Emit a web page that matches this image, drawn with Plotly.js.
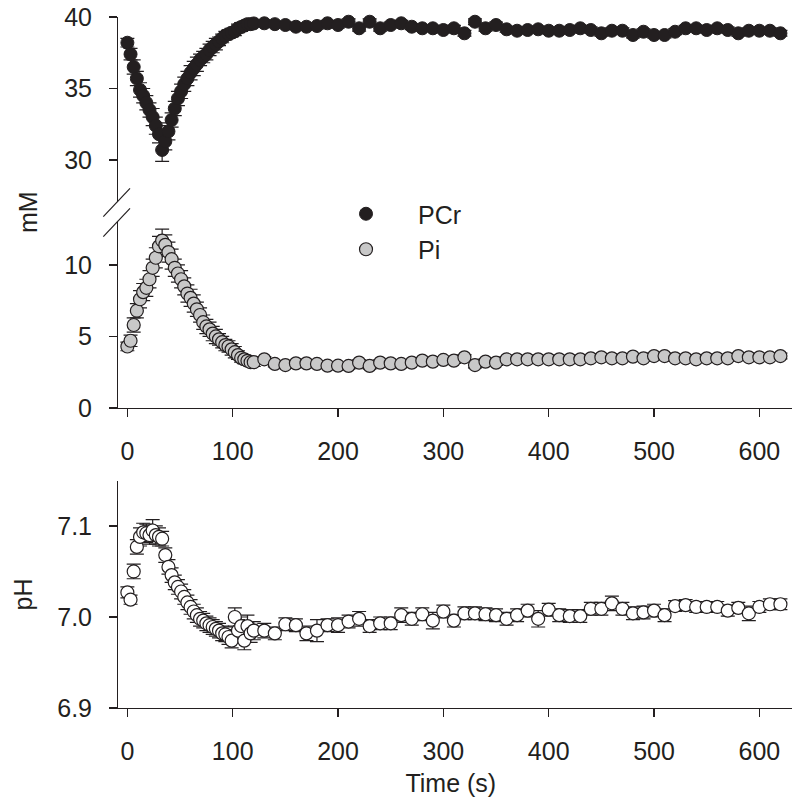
<!DOCTYPE html>
<html>
<head>
<meta charset="utf-8">
<script src="https://cdn.plot.ly/plotly-3.0.1.min.js"></script>
<style>
  html, body { margin: 0; padding: 0; background: #ffffff; }
  #chart { width: 800px; height: 808px; }
</style>
</head>
<body>
<div id="chart"></div>
<script>
// ---- time points (s) ----
var timeDense = [0,3,6,9,12,15,18,21,24,27,30,33,36,39,42,45,48,51,54,57,60,63,66,69,72,75,78,81,84,87,90,93,96,99,102,105,108,111,114,117,120];
var timeLate = [130,140,150,160,170,180,190,200,210,220,230,240,250,260,270,280,290,300,310,320,330,340,350,360,370,380,390,400,410,420,430,440,450,460,470,480,490,500,510,520,530,540,550,560,570,580,590,600,610,620];

// ---- PCr (mM) ----
var pcrDense = [38.2,37.4,36.5,35.7,34.9,34.5,34.0,33.5,33.0,32.4,31.8,30.7,31.3,32.0,32.8,33.6,34.3,34.8,35.3,35.7,36.1,36.4,36.7,37.0,37.2,37.4,37.7,37.9,38.1,38.3,38.5,38.7,38.8,38.9,39.0,39.2,39.3,39.4,39.5,39.5,39.55];
var pcrLate = [39.56,39.5,39.44,39.32,39.32,39.37,39.56,39.44,39.67,39.21,39.67,39.21,39.44,39.56,39.32,39.21,39.21,39.09,39.21,38.86,39.67,39.21,39.44,39.14,39.04,39.09,39.14,39.04,39.04,39.09,39.21,39.09,38.86,39.04,39.04,38.74,38.97,38.74,38.74,38.97,39.21,39.21,39.09,39.21,39.09,38.86,39.04,39.04,39.04,38.86];
var pcrErrDense = [0.3,0.4,0.5,0.5,0.5,0.5,0.5,0.5,0.6,0.6,0.6,0.8,0.6,0.6,0.5,0.5,0.5,0.5,0.5,0.5,0.5,0.5,0.5,0.4,0.4,0.4,0.4,0.4,0.4,0.3,0.3,0.3,0.3,0.3,0.3,0.3,0.3,0.2,0.2,0.2,0.2];
var pcrErrLate = [0.2,0.2,0.2,0.2,0.2,0.2,0.2,0.2,0.2,0.2,0.2,0.2,0.2,0.2,0.2,0.2,0.2,0.2,0.2,0.2,0.2,0.2,0.2,0.2,0.2,0.2,0.2,0.2,0.2,0.2,0.2,0.2,0.2,0.2,0.2,0.2,0.2,0.2,0.2,0.2,0.2,0.2,0.2,0.2,0.2,0.2,0.2,0.2,0.2,0.2];

// ---- Pi (mM) ----
var piDense = [4.3,4.7,5.8,6.8,7.6,8.1,8.4,9.0,9.8,10.5,11.3,11.7,11.4,10.9,10.4,9.8,9.4,9.0,8.5,8.0,7.7,7.3,6.9,6.5,6.0,5.7,5.5,5.2,5.0,4.8,4.6,4.4,4.3,4.1,3.9,3.7,3.5,3.4,3.3,3.2,3.2];
var piLate = [3.4,3.08,3.0,3.12,3.12,3.08,2.96,2.96,2.94,3.17,2.94,3.17,3.12,3.08,3.17,3.31,3.24,3.36,3.31,3.54,3.0,3.24,3.17,3.4,3.4,3.4,3.4,3.4,3.4,3.4,3.4,3.47,3.54,3.47,3.47,3.59,3.47,3.63,3.63,3.47,3.47,3.4,3.47,3.47,3.47,3.63,3.54,3.54,3.54,3.63];
var piErrDense = [0.3,0.4,0.5,0.5,0.6,0.6,0.6,0.6,0.6,0.7,0.7,0.8,0.7,0.7,0.7,0.6,0.6,0.6,0.6,0.6,0.6,0.6,0.5,0.5,0.5,0.5,0.5,0.5,0.5,0.4,0.4,0.4,0.4,0.4,0.4,0.3,0.3,0.3,0.3,0.3,0.3];
var piErrLate = [0.2,0.2,0.2,0.2,0.2,0.2,0.2,0.2,0.2,0.2,0.2,0.2,0.2,0.2,0.2,0.2,0.2,0.2,0.2,0.2,0.2,0.2,0.2,0.2,0.2,0.2,0.2,0.2,0.2,0.2,0.2,0.2,0.2,0.2,0.2,0.2,0.2,0.2,0.2,0.2,0.2,0.2,0.2,0.2,0.2,0.2,0.2,0.2,0.2,0.2];

// ---- pH ----
var phDense = [7.027,7.019,7.050,7.077,7.088,7.093,7.092,7.090,7.095,7.090,7.088,7.086,7.068,7.055,7.046,7.038,7.033,7.028,7.022,7.016,7.011,7.006,7.002,6.998,6.996,6.993,6.991,6.989,6.987,6.985,6.982,6.981,6.978,6.974,7.000,6.985,6.990,6.974,6.990,6.982,6.985];
var phLate = [6.985,6.982,6.992,6.991,6.982,6.985,6.991,6.991,6.995,6.998,6.990,6.993,6.993,7.002,6.998,7.003,6.996,7.006,6.996,7.004,7.004,7.003,7.002,6.998,7.002,7.007,6.998,7.008,7.002,7.001,7.001,7.009,7.009,7.015,7.009,7.004,7.005,7.007,7.002,7.012,7.013,7.011,7.011,7.011,7.007,7.010,7.004,7.011,7.014,7.014];
var phErrDense = [0.006,0.005,0.008,0.008,0.010,0.010,0.010,0.010,0.012,0.010,0.010,0.008,0.008,0.008,0.008,0.008,0.008,0.008,0.008,0.008,0.008,0.008,0.008,0.008,0.008,0.008,0.008,0.008,0.008,0.008,0.008,0.008,0.008,0.008,0.010,0.012,0.010,0.010,0.012,0.010,0.010];
var phErrLate = [0.008,0.007,0.007,0.007,0.008,0.012,0.007,0.008,0.007,0.008,0.007,0.007,0.007,0.008,0.007,0.007,0.009,0.007,0.007,0.007,0.007,0.007,0.007,0.007,0.007,0.007,0.009,0.007,0.007,0.007,0.007,0.007,0.007,0.008,0.007,0.007,0.007,0.007,0.007,0.006,0.006,0.006,0.006,0.006,0.006,0.006,0.008,0.006,0.006,0.006];

// ---- tick labels ----
var xTicks = [0,100,200,300,400,500,600];
var pcrTicks = [30,35,40];
var piTicks = [0,5,10];
var phTicks = [6.9,7.0,7.1];
var phTickText = ['6.9','7.0','7.1'];

var seriesNames = ['PCr','Pi','pH'];

var time = timeDense.concat(timeLate);
var pcr = pcrDense.concat(pcrLate), pcrErr = pcrErrDense.concat(pcrErrLate);
var pi = piDense.concat(piLate), piErr = piErrDense.concat(piErrLate);
var ph = phDense.concat(phLate), phErr = phErrDense.concat(phErrLate);

var INK = '#231f20';
var FONT = 'Liberation Sans, Arial, sans-serif';
var W = 800, H = 808;
function px(x) { return x / W; }
function py(y) { return 1 - y / H; }

function errStyle(arr) {
  return {type: 'data', array: arr, visible: true, color: INK, thickness: 1.2, width: 7};
}

var traces = [
  {x: time, y: pcr, xaxis: 'x', yaxis: 'y', type: 'scatter', mode: 'markers', name: seriesNames[0],
   legendgroup: 'm', cliponaxis: false,
   marker: {size: 13, color: INK, line: {color: INK, width: 1}}, error_y: errStyle(pcrErr)},
  {x: time, y: pi, xaxis: 'x', yaxis: 'y2', type: 'scatter', mode: 'markers', name: seriesNames[1],
   legendgroup: 'm', cliponaxis: false,
   marker: {size: 13, color: '#c8c8c8', line: {color: INK, width: 1.2}}, error_y: errStyle(piErr)},
  {x: time, y: ph, xaxis: 'x2', yaxis: 'y3', type: 'scatter', mode: 'markers', name: seriesNames[2],
   showlegend: false, cliponaxis: false,
   marker: {size: 13, color: '#ffffff', line: {color: INK, width: 1.2}}, error_y: errStyle(phErr)}
];

var xDomain = [px(110), px(791.7)];
var xRange = [-16.5, 630.7];

function yAxisBase(domain, range, tickvals) {
  return {
    domain: domain, range: range, anchor: 'free', position: px(117),
    tickvals: tickvals, showline: true, linecolor: INK, linewidth: 1.3,
    ticks: 'outside', ticklen: 8, tickwidth: 1.3, tickcolor: INK,
    showgrid: false, zeroline: false, ticklabelstandoff: 12,
    tickfont: {family: FONT, size: 25, color: INK}
  };
}
function xAxisBase(anchor) {
  return {
    domain: xDomain, range: xRange, anchor: anchor,
    tickvals: xTicks, showline: true, linecolor: INK, linewidth: 1.3,
    ticks: 'outside', ticklen: 8, tickwidth: 1.3, tickcolor: INK,
    showgrid: false, zeroline: false, ticklabelstandoff: 13,
    tickfont: {family: FONT, size: 25, color: INK}
  };
}

var layout = {
  width: W, height: H,
  margin: {l: 0, r: 0, t: 0, b: 0},
  paper_bgcolor: '#ffffff', plot_bgcolor: 'rgba(0,0,0,0)',
  font: {family: FONT, size: 25, color: INK},
  showlegend: true,
  legend: {x: px(314), y: py(191), xanchor: 'left', yanchor: 'top',
           font: {family: FONT, size: 25, color: INK},
           bgcolor: 'rgba(0,0,0,0)', itemwidth: 94, tracegroupgap: 0},
  xaxis: xAxisBase('y2'),
  xaxis2: Object.assign(xAxisBase('y3'), {
    title: {text: 'Time (s)', font: {family: FONT, size: 25, color: INK}, standoff: 10}
  }),
  yaxis: yAxisBase([py(202), py(17)], [27.06, 40], pcrTicks),
  yaxis2: yAxisBase([py(408), py(222)], [0, 13.0], piTicks),
  yaxis3: Object.assign(yAxisBase([py(708), py(481)], [6.9, 7.1494], phTicks), {
    ticktext: phTickText,
    title: {text: 'pH', font: {family: FONT, size: 25, color: INK}, standoff: 16}
  }),
  annotations: [
    {text: 'mM', xref: 'paper', yref: 'paper', x: px(28), y: py(212), textangle: -90,
     showarrow: false, xanchor: 'center', yanchor: 'middle',
     font: {family: FONT, size: 25, color: INK}}
  ],
  shapes: [
    {type: 'line', xref: 'paper', yref: 'paper', x0: px(103.3), y0: py(216.7), x1: px(130), y1: py(188.3),
     line: {color: INK, width: 1.2}},
    {type: 'line', xref: 'paper', yref: 'paper', x0: px(103.3), y0: py(236.7), x1: px(130), y1: py(208.3),
     line: {color: INK, width: 1.2}}
  ]
};

Plotly.newPlot('chart', traces, layout, {displayModeBar: false, staticPlot: true});
</script>
</body>
</html>
